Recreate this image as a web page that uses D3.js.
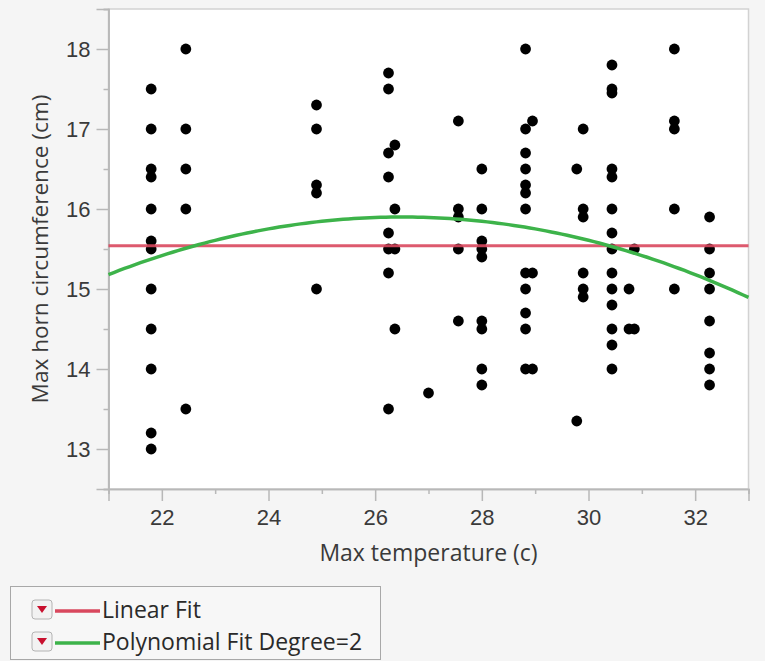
<!DOCTYPE html>
<html>
<head>
<meta charset="utf-8">
<script src="https://cdn.jsdelivr.net/npm/d3@7"></script>
<style>
  html, body { margin: 0; padding: 0; background: #f5f5f5; }
  svg { display: block; font-family: "Open Sans", "Noto Sans", sans-serif; }
</style>
</head>
<body>
<svg id="chart" width="765" height="661"></svg>
<script>
// max temperature of each column of points
const temps = [21.8, 22.45, 24.9, 26.25, 26.37, 27.0, 27.56, 28.0, 28.82, 28.95,
  29.78, 29.9, 30.44, 30.76, 30.86, 31.61, 32.27];
// horn circumference of the points in each column
const horns = [
  [17.5, 17.0, 16.5, 16.4, 16.0, 15.6, 15.5, 15.0, 14.5, 14.0, 13.2, 13.0],
  [18.0, 17.0, 16.5, 16.0, 13.5],
  [17.3, 17.0, 16.3, 16.2, 15.0],
  [17.7, 17.5, 16.7, 16.4, 15.7, 15.5, 15.2, 13.5],
  [16.8, 16.0, 15.5, 14.5],
  [13.7],
  [17.1, 16.0, 15.9, 15.5, 14.6],
  [16.5, 16.0, 15.6, 15.5, 15.4, 14.6, 14.5, 14.0, 13.8],
  [18.0, 17.0, 16.7, 16.5, 16.3, 16.2, 16.0, 15.2, 15.0, 14.7, 14.5, 14.0],
  [17.1, 15.2, 14.0],
  [16.5, 13.35],
  [17.0, 16.0, 15.9, 15.2, 15.0, 14.9],
  [17.8, 17.5, 17.45, 16.5, 16.4, 16.0, 15.7, 15.5, 15.2, 15.0, 14.8, 14.5, 14.3, 14.0],
  [15.0, 14.5],
  [15.5, 14.5],
  [18.0, 17.1, 17.0, 16.0, 15.0],
  [15.9, 15.5, 15.2, 15.0, 14.6, 14.2, 14.0, 13.8]
];
// fits: linear [intercept, slope], quadratic [peak y, peak x, curvature]
const linearFit = [15.54, 0];
const quadFit = [15.9, 26.5, -0.0238];

const xMajor = [22, 24, 26, 28, 30, 32];
const xMinor = [21, 23, 25, 27, 29, 31, 33];
const yMajor = [13, 14, 15, 16, 17, 18];
const yMinor = [12.5, 13.5, 14.5, 15.5, 16.5, 17.5, 18.5];

const legendItems = [
  { label: "Linear Fit", color: "#d9485e" },
  { label: "Polynomial Fit Degree=2", color: "#3db34a" }
];

var svg = d3.select("#chart");

var x = d3.scaleLinear().domain([21, 33]).range([108.5, 748.5]);
var y = d3.scaleLinear().domain([12.5, 18.5]).range([489, 9]);

// plot background + frame
svg.append("rect")
  .attr("x", x(21)).attr("y", y(18.5))
  .attr("width", x(33) - x(21)).attr("height", y(12.5) - y(18.5))
  .attr("fill", "#fff")
  .attr("stroke", "#d2d2d2")
  .attr("stroke-width", 1.5);

function styleAxis(g) {
  g.select(".domain").attr("stroke", "#b8b8b8").attr("stroke-width", 1.5);
  g.selectAll(".tick line").attr("stroke", "#b8b8b8").attr("stroke-width", 1.5);
  g.selectAll(".tick text").attr("fill", "#3a3a3a").style("font-size", "22px");
}

// x axis
svg.append("g")
  .attr("transform", `translate(0,${y(12.5)})`)
  .call(d3.axisBottom(x).tickValues(xMinor).tickSize(5).tickFormat(""))
  .call(styleAxis);
svg.append("g")
  .attr("transform", `translate(0,${y(12.5)})`)
  .call(d3.axisBottom(x).tickValues(xMajor).tickSize(12).tickPadding(8).tickFormat(d3.format("d")))
  .call(styleAxis);

// y axis
svg.append("g")
  .attr("transform", `translate(${x(21)},0)`)
  .call(d3.axisLeft(y).tickValues(yMinor).tickSize(5).tickFormat(""))
  .call(styleAxis);
svg.append("g")
  .attr("transform", `translate(${x(21)},0)`)
  .call(d3.axisLeft(y).tickValues(yMajor).tickSize(12).tickPadding(6).tickFormat(d3.format("d")))
  .call(styleAxis);

// axis titles
svg.append("text")
  .attr("x", (x(21) + x(33)) / 2).attr("y", 561)
  .attr("text-anchor", "middle")
  .attr("fill", "#3a3a3a")
  .style("font-size", "23px")
  .text("Max temperature (c)");

svg.append("text")
  .attr("transform", `translate(48,${(y(12.5) + y(18.5)) / 2}) rotate(-90)`)
  .attr("text-anchor", "middle")
  .attr("fill", "#3a3a3a")
  .style("font-size", "22.6px")
  .text("Max horn circumference (cm)");

// points
var points = [];
temps.forEach((t, i) => horns[i].forEach(h => points.push([t, h])));

svg.append("g")
  .selectAll("circle")
  .data(points)
  .join("circle")
  .attr("cx", d => x(d[0]))
  .attr("cy", d => y(d[1]))
  .attr("r", 5.4)
  .attr("fill", "#000");

// fit lines
var xs = d3.range(21, 33.001, 0.1);
var line = d3.line().x(d => x(d[0])).y(d => y(d[1]));

svg.append("path")
  .datum(xs.map(t => [t, linearFit[0] + linearFit[1] * t]))
  .attr("d", line)
  .attr("fill", "none")
  .attr("stroke", legendItems[0].color)
  .attr("stroke-opacity", 0.9)
  .attr("stroke-width", 3);

svg.append("path")
  .datum(xs.map(t => [t, quadFit[0] + quadFit[2] * (t - quadFit[1]) * (t - quadFit[1])]))
  .attr("d", line)
  .attr("fill", "none")
  .attr("stroke", legendItems[1].color)
  .attr("stroke-width", 3.5);

// legend
var legend = svg.append("g");
legend.append("rect")
  .attr("x", 10.5).attr("y", 586.5)
  .attr("width", 370).attr("height", 73)
  .attr("fill", "#f7f7f7")
  .attr("stroke", "#a8a8a8");

var rows = legend.selectAll("g.row")
  .data(legendItems)
  .join("g")
  .attr("class", "row")
  .attr("transform", (d, i) => `translate(0,${610 + i * 32})`);

rows.append("rect")
  .attr("x", 32).attr("y", -10)
  .attr("width", 20).attr("height", 19)
  .attr("rx", 3)
  .attr("fill", "#f2f2f2")
  .attr("stroke", "#b4b4b4");

rows.append("path")
  .attr("d", "M37,-4 L47,-4 L42,3 Z")
  .attr("fill", "#c8102e");

rows.append("line")
  .attr("x1", 55).attr("x2", 100)
  .attr("y1", 1).attr("y2", 1)
  .attr("stroke", d => d.color)
  .attr("stroke-width", 3.5);

rows.append("text")
  .attr("x", 102).attr("y", 8)
  .attr("fill", "#2a2a2a")
  .style("font-size", "23px")
  .text(d => d.label);
</script>
</body>
</html>
